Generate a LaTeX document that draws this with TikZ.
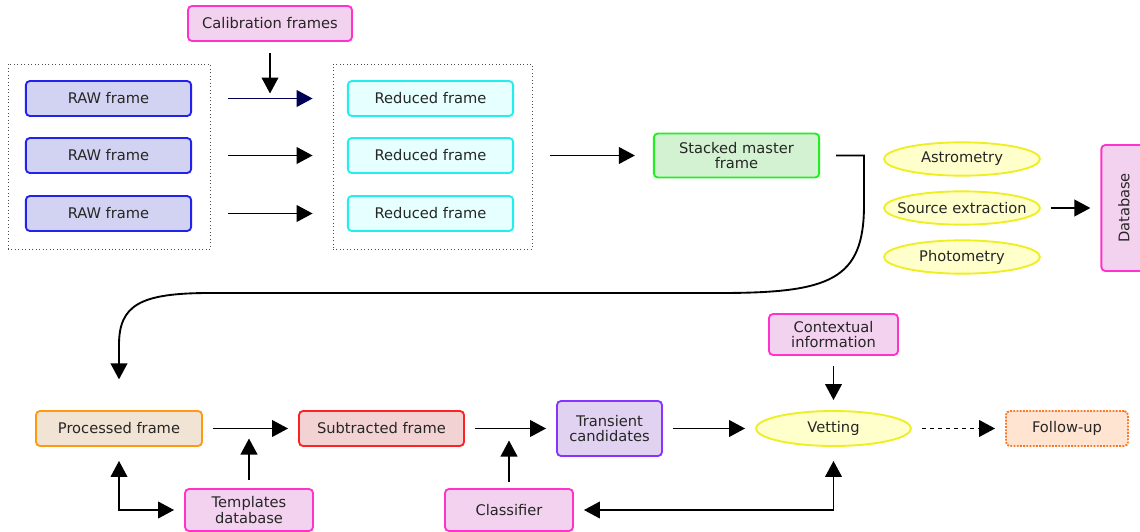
\documentclass[tikz,border=0pt]{standalone}
\usepackage{fontspec}
\setmainfont{DejaVu Sans}
\usepackage{tikz}
\usetikzlibrary{arrows.meta}
\usetikzlibrary{shapes}

\definecolor{rawfill}{HTML}{D2D2F2}
\definecolor{rawline}{HTML}{2222EE}
\definecolor{redfill}{HTML}{E6FFFF}
\definecolor{redline}{HTML}{22EEEE}
\definecolor{pinkfill}{HTML}{F2D2EE}
\definecolor{pinkline}{HTML}{FF33CC}
\definecolor{greenfill}{HTML}{D2F2D2}
\definecolor{greenline}{HTML}{22EE22}
\definecolor{yelfill}{HTML}{FFFFCC}
\definecolor{yelline}{HTML}{EEEE22}
\definecolor{procfill}{HTML}{F2E4D4}
\definecolor{procline}{HTML}{FF9911}
\definecolor{subfill}{HTML}{F2D2D2}
\definecolor{subline}{HTML}{FF2222}
\definecolor{transfill}{HTML}{E2D2F2}
\definecolor{transline}{HTML}{8833FF}
\definecolor{follfill}{HTML}{FFE4D2}
\definecolor{follline}{HTML}{FF7722}
\definecolor{navy}{HTML}{000055}

\begin{document}
\begin{tikzpicture}[x=0.75pt, y=-0.75pt, >={Triangle[length=12pt,width=12.5pt]}, line width=1.4pt,
	every node/.style={font=\fontsize{11}{11.5}\selectfont, text=black!85, align=center, inner sep=0pt},
	box/.style={rectangle, rounded corners=3pt, draw, line width=1.4pt, minimum height=26.25pt},
	blob/.style={ellipse, draw=yelline, fill=yelfill, line width=1.4pt, minimum width=117pt, minimum height=25pt},
	group/.style={rectangle, draw=black!70, dotted, line width=0.6pt},
	flow/.style={->, shorten <=7.5pt, shorten >=7.5pt}]
	\useasboundingbox (0,0) rectangle (1140,532);
	%Calibration
	\node [box, draw=pinkline, fill=pinkfill, minimum width=123pt] (calib) at (270,23.5) {Calibration frames};
	%Raw frames
	\node [group, minimum width=151.5pt, minimum height=138.75pt] (rawgrp) at (109,156.5) {};
	\node [box, draw=rawline, fill=rawfill, minimum width=124pt] (raw1) at (108.5,98.5) {RAW frame};
	\node [box, draw=rawline, fill=rawfill, minimum width=124pt] (raw2) at (108.5,155.5) {RAW frame};
	\node [box, draw=rawline, fill=rawfill, minimum width=124pt] (raw3) at (108.5,213.5) {RAW frame};
	%Reduced frames
	\node [group, minimum width=149.25pt, minimum height=138.75pt] (redgrp) at (432.5,156.5) {};
	\node [box, draw=redline, fill=redfill, minimum width=124pt] (red1) at (430.5,98.5) {Reduced frame};
	\node [box, draw=redline, fill=redfill, minimum width=124pt] (red2) at (430.5,155.5) {Reduced frame};
	\node [box, draw=redline, fill=redfill, minimum width=124pt] (red3) at (430.5,213.5) {Reduced frame};
	\draw[->, draw=navy, fill=navy, shorten <=13.5pt, shorten >=15pt] (rawgrp.east |- raw1) -- (redgrp.west |- red1);
	\draw[->, shorten <=13.5pt, shorten >=15pt] (rawgrp.east |- raw2) -- (redgrp.west |- red2);
	\draw[->, shorten <=13.5pt, shorten >=15pt] (rawgrp.east |- raw3) -- (redgrp.west |- red3);
	\draw[->, shorten <=8.25pt, shorten >=3.75pt] (calib) -- (calib |- raw1);
	%Stacking
	\node [box, draw=greenline, fill=greenfill, minimum width=124pt, minimum height=33pt] (stack) at (736.5,155.5) {Stacked master\\frame};
	\draw[->, shorten <=13.5pt, shorten >=13.5pt] (redgrp.east |- red2) -- (stack);
	%Extraction
	\node [blob] (astro) at (962,159) {\makebox[0pt]{Astrometry}};
	\node [blob] (source) at (962,208) {\makebox[0pt]{Source extraction}};
	\node [blob] (photo) at (962,257) {\makebox[0pt]{Photometry}};
	\node [box, rotate=90, draw=pinkline, fill=pinkfill, minimum width=94.5pt, minimum height=34pt] (db) at (1124,208) {Database};
	\draw[flow] (source) -- (db);
	%Processing
	\node [box, draw=procline, fill=procfill, minimum width=124.5pt] (proc) at (119,428.5) {Processed frame};
	\draw[->, shorten <=12pt, shorten >=23pt] (stack.east) -- (864,155.5) -- (864,205)
		.. controls (864,280) and (830,293) .. (720,293) -- (210,293)
		.. controls (140,293) and (119,305) .. (119,345) -- (proc.north);
	%Subtraction
	\node [box, draw=subline, fill=subfill, minimum width=123.75pt] (sub) at (381.5,428.5) {Subtracted frame};
	\node [box, draw=pinkline, fill=pinkfill, minimum width=96pt, minimum height=31.5pt] (tmpl) at (249,510) {Templates\\database};
	\draw[flow] (proc) -- (sub);
	\draw[->, shorten <=6pt, shorten >=7.5pt] (tmpl) -- (tmpl |- proc);
	\draw[<->, shorten <=10.5pt, shorten >=7.5pt] (proc.south) |- (tmpl.west);
	%Candidates
	\node [box, draw=transline, fill=transfill, minimum width=78.75pt, minimum height=41.25pt] (trans) at (609.5,428.5) {Transient\\candidates};
	\node [box, draw=pinkline, fill=pinkfill, minimum width=96pt, minimum height=31.5pt] (cls) at (509,510) {Classifier};
	\draw[flow] (sub) -- (trans);
	\draw[->, shorten <=4.5pt, shorten >=9pt] (cls) -- (cls |- sub);
	%Vetting
	\node [blob, minimum width=116.25pt, minimum height=26.25pt] (vet) at (833.5,428.5) {\makebox[0pt]{Vetting}};
	\node [box, draw=pinkline, fill=pinkfill, minimum width=96.75pt, minimum height=30.75pt] (ctx) at (833.5,334.5) {Contextual\\information};
	\draw[flow] (trans) -- (vet);
	\draw[flow] (ctx) -- (vet);
	\draw[<->, shorten <=7.5pt, shorten >=10.5pt] (cls.east) -| (vet.south);
	%Follow-up
	\node [box, densely dotted, draw=follline, fill=follfill, minimum width=91.5pt] (follow) at (1067,428.5) {Follow-up};
	\draw[flow, dashed] (vet) -- (follow);
\end{tikzpicture}
\end{document}
